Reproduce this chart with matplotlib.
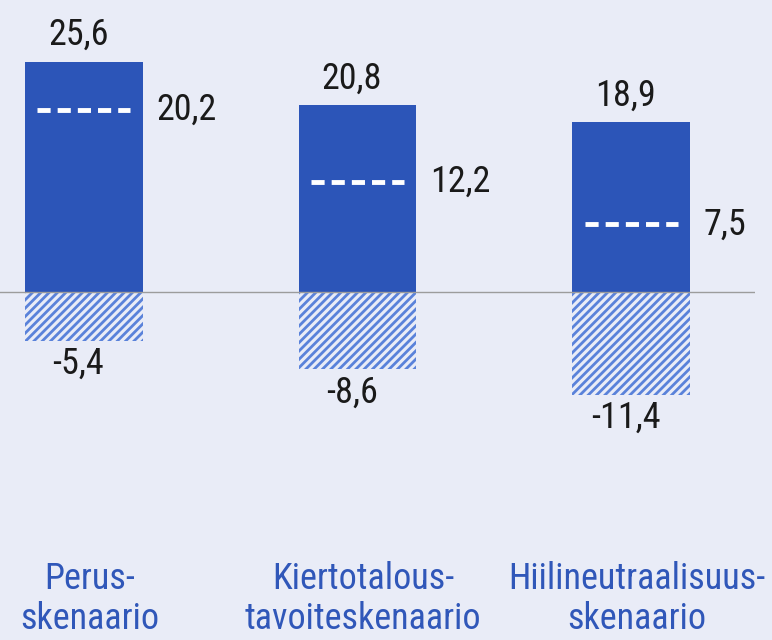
"""Skenaarioiden päästöt ja nielut: pylväät, viivoitettu nielu ja katkoviiva nettoarvolle."""

import matplotlib
matplotlib.use("Agg")
import matplotlib.pyplot as plt
from matplotlib.transforms import blended_transform_factory

scenarios = ["Perus-\nskenaario", "Kiertotalous-\ntavoiteskenaario", "Hiilineutraalisuus-\nskenaario"]
emissions = [25.6, 20.8, 18.9]
sinks = [-5.4, -8.6, -11.4]
net = [20.2, 12.2, 7.5]

BG = "#e9ecf7"
BAR = "#2c55b8"
HATCH = "#5a82da"
TXT_BLUE = "#3057b9"


def fmt(v):
    return f"{v:.1f}".replace(".", ",")


plt.rcParams["font.family"] = ["Roboto Condensed", "Liberation Sans Narrow", "DejaVu Sans"]
plt.rcParams["font.stretch"] = "condensed"
plt.rcParams["hatch.linewidth"] = 2.0

fig = plt.figure(figsize=(7.72, 6.4), dpi=100, facecolor=BG)
ax = fig.add_axes([0, 0, 755 / 772, 1])
ax.set_facecolor(BG)

x = list(range(len(scenarios)))
w = 0.431

ax.bar(x, emissions, width=w, color=BAR, linewidth=0, zorder=2)
ax.bar(x, sinks, width=w, color="none", edgecolor=HATCH, hatch="////", linewidth=0, zorder=2)
ax.axhline(0, color="#9c9c9c", linewidth=1.0, zorder=3)

for xi, e, s, n in zip(x, emissions, sinks, net):
    ax.plot([xi - 0.17, xi + 0.17], [n, n], color="white", linewidth=3.5,
            dashes=(2.7, 1.45), solid_capstyle="butt", dash_capstyle="butt", zorder=4)
    ax.annotate(fmt(e), (xi, e), xytext=(-4, 6), textcoords="offset points",
                ha="center", va="bottom", fontsize=26, color="#1a1a1a")
    ax.annotate(fmt(s), (xi, s), xytext=(-4, -4), textcoords="offset points",
                ha="center", va="top", fontsize=26, color="#1a1a1a")
    ax.annotate(fmt(n), (xi + w / 2, n), xytext=(10, 0), textcoords="offset points",
                ha="left", va="center", fontsize=26, color="#1a1a1a")

trans = blended_transform_factory(ax.transData, ax.transAxes)
for xi, name in zip(x, scenarios):
    ax.text(xi + 0.02, 0.064, name, transform=trans, ha="center", va="center",
            fontsize=26, color=TXT_BLUE, linespacing=1.12)

ax.set_xlim(-0.307, 2.453)
ax.set_ylim(-38.67, 32.44)
ax.axis("off")

fig.savefig("out.png", dpi=100, facecolor=BG)
